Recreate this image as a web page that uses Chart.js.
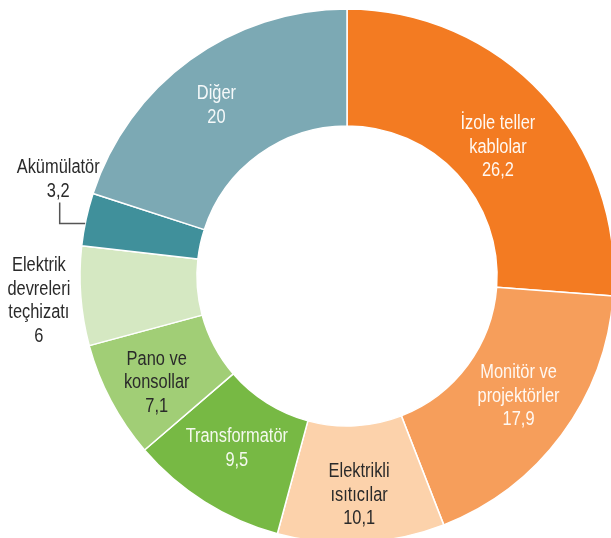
<!DOCTYPE html>
<html lang="tr">
<head>
<meta charset="utf-8">
<title>Elektrikli ekipman dağılımı</title>
<script src="https://cdn.jsdelivr.net/npm/chart.js@4"></script>
<style>
  html, body { margin: 0; padding: 0; background: #ffffff; overflow: hidden; }
  #wrap { position: absolute; left: 0; top: 0; width: 694px; height: 552px; }
</style>
</head>
<body>
<div id="wrap"><canvas id="pie" width="694" height="552"></canvas></div>
<script>
// --- veriler ---
const categories = [
    ['İzole teller', 'kablolar'],
    ['Monitör ve', 'projektörler'],
    ['Elektrikli', 'ısıtıcılar'],
    ['Transformatör'],
    ['Pano ve', 'konsollar'],
    ['Elektrik', 'devreleri', 'teçhizatı'],
    ['Akümülatör'],
    ['Diğer']
];
const shares = [26.2, 17.9, 10.1, 9.5, 7.1, 6, 3.2, 20];

const sliceColors = ['#F37B22', '#F69E5B', '#FCD2AB', '#77B944', '#A1CE76', '#D5E8C2', '#40909B', '#7CA9B4'];

// etiket yerleşimi: 'in' halka ortasına göre, 'out' dış kenarın 41px dışına göre,
// 'leader' kırık çizgiyle; dx/dy küçük düzeltmeler
const labelPlace = [
    { mode: 'in', dx: -2, dy: 13, color: '#FFF8F2' },
    { mode: 'in', dx: 4, dy: -4, color: '#FFF8F2' },
    { mode: 'in', dx: 1, dy: 11, color: '#2A2A2A' },
    { mode: 'in', dx: 1, dy: -4, color: '#F4F9EE' },
    { mode: 'in', dx: -6, dy: 9, color: '#2A2A2A' },
    { mode: 'out', dx: -1, dy: 2, color: '#2A2A2A' },
    { mode: 'leader', dx: 0, dy: 0, color: '#2A2A2A' },
    { mode: 'in', dx: -8, dy: -2, color: '#F5F9FA' }
];

// dar yazı: Arial metrikli yazıyı yatayda sıkıştır
const FONT = '20px "Liberation Sans", Arial, sans-serif';
const SQUEEZE = 0.82;
const LINE_H = 23.5;

const fmt = v => String(v).replace('.', ',');

function drawBlock(ctx, lines, cx, cy, color) {
    ctx.fillStyle = color;
    const top = cy - (lines.length - 1) * LINE_H / 2;
    lines.forEach((t, k) => {
        ctx.save();
        ctx.translate(cx, top + k * LINE_H);
        ctx.scale(SQUEEZE, 1);
        ctx.fillText(t, 0, 0);
        ctx.restore();
    });
}

const sliceLabels = {
    id: 'sliceLabels',
    afterDatasetsDraw(chart) {
        const ctx = chart.ctx;
        const meta = chart.getDatasetMeta(0);
        ctx.save();
        ctx.font = FONT;
        ctx.textAlign = 'center';
        ctx.textBaseline = 'middle';
        meta.data.forEach((arc, i) => {
            const p = arc.getProps(['x', 'y', 'startAngle', 'endAngle', 'innerRadius', 'outerRadius'], true);
            const mid = (p.startAngle + p.endAngle) / 2;
            const lines = categories[i].concat([fmt(shares[i])]);
            const opt = labelPlace[i];

            if (opt.mode === 'in' || opt.mode === 'out') {
                const r = opt.mode === 'in' ? (p.innerRadius + p.outerRadius) / 2 : p.outerRadius + 41;
                drawBlock(ctx, lines,
                    p.x + Math.cos(mid) * r + opt.dx,
                    p.y + Math.sin(mid) * r + opt.dy, opt.color);
            } else {
                // kısa dilim: kenardan sola, sonra yukarı kırılan çizgi
                const a = p.startAngle + 0.42 * (p.endAngle - p.startAngle);
                const ex = p.x + Math.cos(a) * p.outerRadius;
                const ey = p.y + Math.sin(a) * p.outerRadius;
                const bx = ex - 25.5;
                const by = ey - 21;
                ctx.strokeStyle = '#555555';
                ctx.lineWidth = 1.5;
                ctx.beginPath();
                ctx.moveTo(ex, ey);
                ctx.lineTo(bx, ey);
                ctx.lineTo(bx, by);
                ctx.stroke();
                drawBlock(ctx, lines, bx - 1.5, by - 23, opt.color);
            }
        });
        ctx.restore();
    }
};

new Chart(document.getElementById('pie'), {
    type: 'doughnut',
    data: {
        labels: categories.map(c => c.join(' ')),
        datasets: [{
            data: shares,
            backgroundColor: sliceColors,
            borderColor: '#ffffff',
            borderWidth: 1.5,
            radius: 267,
            cutout: '56.2%'
        }]
    },
    options: {
        responsive: false,
        animation: false,
        devicePixelRatio: 1,
        layout: { padding: 0 },
        plugins: {
            legend: { display: false },
            tooltip: { enabled: false }
        }
    },
    plugins: [sliceLabels]
});
</script>
</body>
</html>
